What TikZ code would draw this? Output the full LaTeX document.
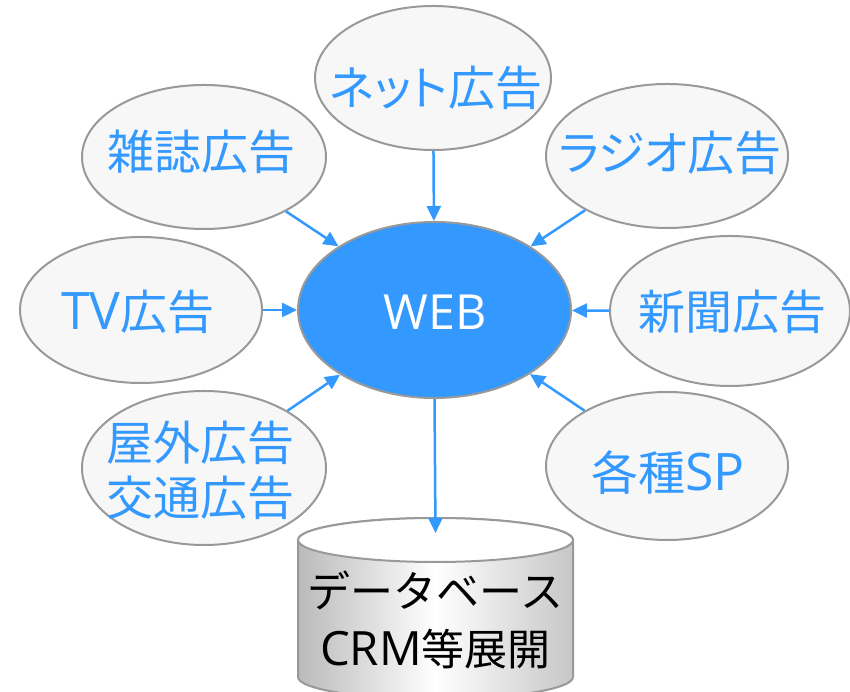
\documentclass[tikz,border=0pt]{standalone}
\usepackage{fontspec}
\setmainfont{Noto Sans CJK JP}
\newfontfamily\kanap[RawFeature=+palt]{Noto Sans CJK JP}
\newfontfamily\lat[Scale=1.1]{Open Sans}
\usetikzlibrary{shapes.geometric,arrows.meta}
\definecolor{myblue}{HTML}{3399FF}
\definecolor{myborder}{HTML}{999999}
\definecolor{myfill}{HTML}{F7F7F7}
\tikzset{
  media/.style={ellipse, draw=myborder, line width=2pt, fill=myfill, inner sep=0pt},
  mtext/.style={text=myblue, font=\kanap\fontsize{47}{55}\selectfont, align=center, inner sep=0pt},
  webnode/.style={ellipse, draw=myborder, line width=2pt, fill=myblue, inner sep=0pt},
  conn/.style={draw=myblue, line width=2.5pt, -{Triangle[length=15pt,width=14pt]}},
}
\begin{document}
\begin{tikzpicture}[x=1pt,y=1pt]
\useasboundingbox (0,0) rectangle (850,692);
% media ellipses
\node[media, minimum width=236pt, minimum height=144pt] (net) at (433,614) {};
\node[media, minimum width=244pt, minimum height=144pt] (zasshi) at (204,535) {};
\node[media, minimum width=242pt, minimum height=144pt] (radio) at (667,536) {};
\node[media, minimum width=242pt, minimum height=146pt] (tv) at (141,382) {};
\node[media, minimum width=240pt, minimum height=150pt] (shinbun) at (730,381) {};
\node[media, minimum width=244pt, minimum height=154pt] (okugai) at (204,224) {};
\node[media, minimum width=242pt, minimum height=148pt] (sp) at (667,226) {};
% texts
\node[mtext] (net-t) at (436,604) {ネット広告};
\node[mtext] (zasshi-t) at (201,540) {雑誌広告};
\node[mtext] (radio-t) at (670,539) {ラジオ広告};
\node[mtext] (tv-t) at (138,380) {{\lat TV}広告};
\node[mtext] (shinbun-t) at (732,380) {新聞広告};
\node[mtext] (okugai-t) at (200,222) {屋外広告\\交通広告};
\node[mtext] (sp-t) at (668,219) {各種{\lat SP}};
% web
\node[webnode, minimum width=273pt, minimum height=176pt] (web) at (434.5,382) {};
\node[text=white, font=\lat\fontsize{44}{50}\selectfont, inner sep=0pt] (web-t) at (435,380) {WEB};
% database cylinder
\path[left color=black!27, right color=black!22, middle color=white, draw=myborder, line width=2pt]
  (298,152) -- (298,15) arc (180:360:137.5pt and 22pt) -- (573,152) arc (0:180:137.5pt and 22pt) -- cycle;
\draw[myborder, line width=2pt, fill=white] (435.5,152) ellipse (137.5pt and 22pt);
\node[text=black, font=\fontsize{43}{58}\selectfont, align=center, inner sep=0pt] (db) at (435.5,72) {データベース\\{\lat CRM}等展開};
\coordinate (dbtop) at (435.5,159);
% connectors
\draw[conn] (net) -- (web);
\draw[conn] (zasshi) -- (web);
\draw[conn] (radio) -- (web);
\draw[conn] (tv) -- (web);
\draw[conn] (shinbun) -- (web);
\draw[conn] (okugai) -- (web);
\draw[conn] (sp) -- (web);
\draw[conn] (web.south) -- (dbtop);
\end{tikzpicture}
\end{document}
